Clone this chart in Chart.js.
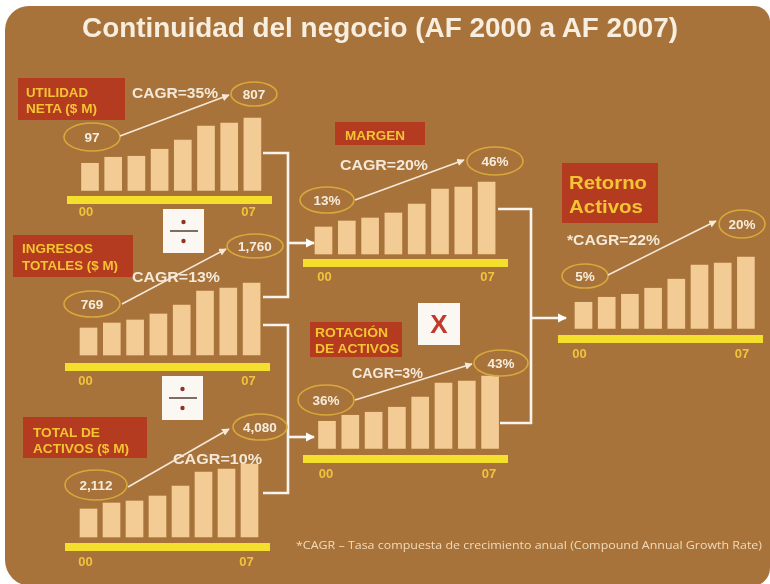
<!DOCTYPE html>
<html>
<head>
<meta charset="utf-8">
<script src="https://cdn.jsdelivr.net/npm/chart.js@4.4.1/dist/chart.umd.min.js"></script>
<style>
  html, body { margin: 0; padding: 0; background: #fff; }
  #stage { position: relative; width: 770px; height: 584px; overflow: hidden; }
  #panel { position: absolute; left: 5px; top: 6px; width: 765px; height: 580px;
           background: #a8733a; border-radius: 24px 16px 18px 26px; }
  canvas { position: absolute; }
  #ov { position: absolute; left: 0; top: 0; }
</style>
</head>
<body>
<div id="stage">
  <div id="panel"></div>
  <canvas id="c0"></canvas>
  <canvas id="c1"></canvas>
  <canvas id="c2"></canvas>
  <canvas id="c3"></canvas>
  <canvas id="c4"></canvas>
  <canvas id="c5"></canvas>
  <svg id="ov" width="770" height="584"></svg>
</div>
<script>
// datos
const years = ['00', '01', '02', '03', '04', '05', '06', '07'];
const utilidadNeta    = [27, 33, 34, 41, 50, 64, 67, 72];
const ingresosTotales = [27, 32, 35, 41, 50, 64, 67, 72];
const totalActivos    = [28, 34, 36, 41, 51, 65, 68, 73];
const margen          = [27, 33, 36, 41, 50, 65, 67, 72];
const rotacion        = [27, 33, 36, 41, 51, 65, 67, 72];
const retorno         = [26, 31, 34, 40, 49, 63, 65, 71];
const startValues = ['97', '769', '2,112', '13%', '36%', '5%'];
const endValues   = ['807', '1,760', '4,080', '46%', '43%', '20%'];
const cagrLabels  = ['CAGR=35%', 'CAGR=13%', 'CAGR=10%', 'CAGR=20%', 'CAGR=3%', '*CAGR=22%'];
const boxTitles = [['UTILIDAD', 'NETA ($ M)'], ['INGRESOS', 'TOTALES ($ M)'], ['TOTAL DE', 'ACTIVOS ($ M)'],
                   ['MARGEN'], ['ROTACIÓN', 'DE ACTIVOS'], ['Retorno', 'Activos']];
const series = [utilidadNeta, ingresosTotales, totalActivos, margen, rotacion, retorno];

// posiciones de cada mini grafico
const TOPU = 80, AXIS_H = 26;
const layout = [
  {left: 67,  right: 272, first: 90,    step: 23.2, base: 190, yc: 199.5, pad: 5,  lo: -4},
  {left: 65,  right: 270, first: 88.5,  step: 23.3, base: 355, yc: 367,   pad: 7,  lo: -3},
  {left: 65,  right: 270, first: 88.5,  step: 23.0, base: 537, yc: 547,   pad: 8,  lo: -3},
  {left: 303, right: 508, first: 323.5, step: 23.3, base: 254, yc: 263,   pad: 7,  lo: 1},
  {left: 303, right: 508, first: 327,   step: 23.3, base: 448, yc: 458.5, pad: 8,  lo: -1},
  {left: 558, right: 763, first: 583.5, step: 23.2, base: 328, yc: 338.5, pad: 8,  lo: -4}
];

function makeChart(id, values, L) {
  const cv = document.getElementById(id);
  const top = L.base - TOPU;
  cv.width = L.right - L.left;
  cv.height = Math.round(L.yc - top) + AXIS_H;
  cv.style.left = L.left + 'px';
  cv.style.top = top + 'px';
  return new Chart(cv, {
    type: 'bar',
    data: {
      datasets: [{
        data: values.map((v, i) => ({x: i, y: v})),
        backgroundColor: '#f3cb95',
        borderWidth: 0,
        barThickness: 17
      }]
    },
    options: {
      responsive: false,
      animation: false,
      events: [],
      layout: {padding: 0},
      plugins: {legend: {display: false}, tooltip: {enabled: false}},
      scales: {
        x: {
          type: 'linear',
          offset: false,
          min: (L.left - L.first) / L.step,
          max: (L.right - L.first) / L.step,
          grid: {display: false, drawTicks: false, offset: false},
          border: {display: true, color: '#f4e02c', width: 8},
          afterBuildTicks: s => { s.ticks = [{value: 0}, {value: years.length - 1}]; },
          afterFit: s => { s.height = AXIS_H; },
          ticks: {
            callback: v => years[v],
            autoSkip: false, maxRotation: 0,
            padding: L.pad, labelOffset: L.lo,
            color: '#efc43c',
            font: {family: 'Liberation Sans, Arial, sans-serif', size: 13, weight: 'bold'}
          }
        },
        y: {display: false, min: -(L.yc - L.base), max: TOPU}
      }
    }
  });
}

series.forEach((s, i) => makeChart('c' + i, s, layout[i]));

// capa de textos, ovalos y flechas
const boxes = [
  {x: 18, y: 78, w: 107, h: 42, tx: 26, l1: 97, l2: 113, fs: 12.5, w1: 62, w2: 71},
  {x: 13, y: 235, w: 120, h: 42, tx: 22, l1: 253, l2: 270, fs: 12.5, w1: 71, w2: 96},
  {x: 23, y: 417, w: 124, h: 41, tx: 33, l1: 437, l2: 453, fs: 12.5, w1: 67, w2: 96},
  {x: 335, y: 122, w: 90, h: 23, tx: 345, l1: 139.5, fs: 12.5, w1: 60},
  {x: 310, y: 322, w: 92, h: 35, tx: 315, l1: 337, l2: 352.5, fs: 12.5, w1: 73, w2: 84},
  {x: 562, y: 163, w: 96, h: 60, tx: 569, l1: 189, l2: 213, fs: 17.5, w1: 78, w2: 74}
];
const ovals = [
  [[92, 137, 28, 14], [254, 94, 23, 12]],
  [[92, 304, 28, 13], [255, 246, 28, 12]],
  [[96, 485, 31, 15], [260, 427, 27, 13]],
  [[327, 200, 27, 13], [495, 161, 28, 14]],
  [[326, 400, 28, 15], [501, 363, 27, 13]],
  [[585, 276, 23, 12], [742, 224, 23, 14]]
];
const arrows = [
  [120, 136, 229, 95], [122, 304, 226, 249], [128, 487, 229, 429],
  [355, 200, 464, 160], [355, 400, 472, 364], [608, 275, 716, 221]
];
const cagrPos = [[132, 98, 86], [132, 282, 88], [173, 464, 89], [340, 170, 88], [352, 378, 71], [567, 245, 93]];

let s = '<defs>' +
  '<marker id="ah" viewBox="0 0 10 10" refX="9" refY="5" markerWidth="5" markerHeight="5" orient="auto">' +
  '<path d="M0,0 L10,5 L0,10 z" fill="#f5e9da"/></marker>' +
  '<marker id="wh" viewBox="0 0 10 10" refX="9" refY="5" markerWidth="3.6" markerHeight="3.6" orient="auto">' +
  '<path d="M0,0 L10,5 L0,10 z" fill="#ffffff"/></marker></defs>';

s += '<text x="82" y="37" textLength="596" lengthAdjust="spacingAndGlyphs" fill="#f8eedf" ' +
     'font-family="Liberation Sans, Arial, sans-serif" font-weight="bold" font-size="27">' +
     'Continuidad del negocio (AF 2000 a AF 2007)</text>';

// conectores
const wl = 'stroke="#f7f3ee" stroke-width="2.6" fill="none"';
s += `<polyline points="263,153 288,153 288,297 263,297" ${wl}/>`;
s += `<polyline points="263,325 288,325 288,493 263,493" ${wl}/>`;
s += `<polyline points="498,209 531,209 531,423 500,423" ${wl}/>`;
s += `<line x1="288" y1="243" x2="314" y2="243" ${wl} marker-end="url(#wh)"/>`;
s += `<line x1="288" y1="437" x2="314" y2="437" ${wl} marker-end="url(#wh)"/>`;
s += `<line x1="531" y1="318" x2="566" y2="318" ${wl} marker-end="url(#wh)"/>`;

boxes.forEach((b, i) => {
  const t = boxTitles[i];
  s += `<rect x="${b.x}" y="${b.y}" width="${b.w}" height="${b.h}" fill="#b53b20"/>`;
  const f = `fill="#f3c532" font-family="Liberation Sans, Arial, sans-serif" font-weight="bold" font-size="${b.fs}" lengthAdjust="spacingAndGlyphs"`;
  s += `<text x="${b.tx}" y="${b.l1}" textLength="${b.w1}" ${f}>${t[0]}</text>`;
  if (t[1]) s += `<text x="${b.tx}" y="${b.l2}" textLength="${b.w2}" ${f}>${t[1]}</text>`;
});

// cajas de operacion
function divBox(x, y) {
  return `<rect x="${x}" y="${y}" width="41" height="44" fill="#fbf8f3"/>` +
    `<line x1="${x + 7}" y1="${y + 22}" x2="${x + 35}" y2="${y + 22}" stroke="#5e4a3e" stroke-width="1.6"/>` +
    `<circle cx="${x + 20.5}" cy="${y + 13}" r="2.2" fill="#8e3424"/>` +
    `<circle cx="${x + 20.5}" cy="${y + 32}" r="2.2" fill="#8e3424"/>`;
}
s += divBox(163, 209) + divBox(162, 376);
s += '<rect x="418" y="303" width="42" height="42" fill="#fbf8f3"/>' +
     '<text x="439" y="333" text-anchor="middle" fill="#c0392b" font-family="Liberation Sans, Arial, sans-serif" ' +
     'font-weight="bold" font-size="26">X</text>';

ovals.forEach((pair, i) => {
  [startValues[i], endValues[i]].forEach((txt, k) => {
    const [cx, cy, rx, ry] = pair[k];
    s += `<ellipse cx="${cx}" cy="${cy}" rx="${rx}" ry="${ry}" fill="none" stroke="#d8a83c" stroke-width="1.6"/>`;
    s += `<text x="${cx}" y="${cy + 5}" text-anchor="middle" fill="#f7ecdc" font-family="Liberation Sans, Arial, sans-serif" font-weight="bold" font-size="13.5">${txt}</text>`;
  });
  const a = arrows[i];
  s += `<line x1="${a[0]}" y1="${a[1]}" x2="${a[2]}" y2="${a[3]}" stroke="#f5e9da" stroke-width="1.5" marker-end="url(#ah)"/>`;
  const c = cagrPos[i];
  s += `<text x="${c[0]}" y="${c[1]}" textLength="${c[2]}" lengthAdjust="spacingAndGlyphs" fill="#f4e8d8" font-family="Liberation Sans, Arial, sans-serif" font-weight="bold" font-size="15">${cagrLabels[i]}</text>`;
});

s += '<text x="296" y="549" textLength="466" lengthAdjust="spacingAndGlyphs" fill="#f1dcba" ' +
     'font-family="Open Sans, Noto Sans, sans-serif" font-size="11">' +
     '*CAGR – Tasa compuesta de crecimiento anual (Compound Annual Growth Rate)</text>';

document.getElementById('ov').innerHTML = s;
</script>
</body>
</html>
